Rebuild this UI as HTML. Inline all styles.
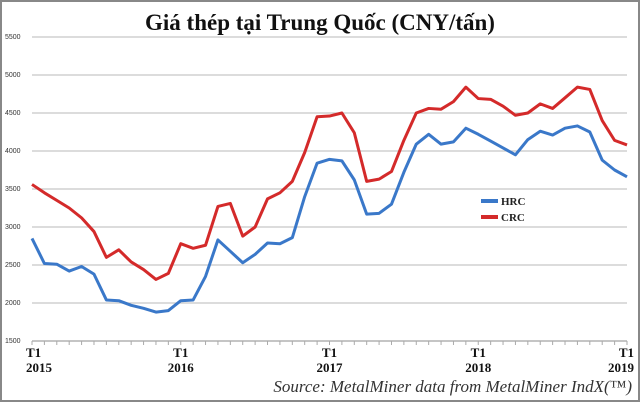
<!DOCTYPE html>
<html><head><meta charset="utf-8"><style>
body{margin:0;background:#fff;}
svg{display:block;}
</style></head><body>
<svg width="640" height="402" viewBox="0 0 640 402" xmlns="http://www.w3.org/2000/svg">
<rect x="1" y="1" width="638" height="400" fill="#fff" stroke="#888" stroke-width="2"/>
<text x="320" y="30" text-anchor="middle" font-family="Liberation Serif, serif" font-size="23" font-weight="bold" fill="#111">Giá thép tại Trung Quốc (CNY/tấn)</text>
<g id="grid"></g><g id="axes"></g><g id="series"></g>
<g>
<line x1="481" y1="201" x2="498" y2="201" stroke="#3a78c9" stroke-width="4"/>
<text x="501" y="205" font-family="Liberation Serif, serif" font-size="11" font-weight="bold" fill="#222">HRC</text>
<line x1="481" y1="217" x2="498" y2="217" stroke="#d42a2a" stroke-width="4"/>
<text x="501" y="221" font-family="Liberation Serif, serif" font-size="11" font-weight="bold" fill="#222">CRC</text>
</g>
<text x="632" y="392" text-anchor="end" font-family="Liberation Serif, serif" font-size="17" font-style="italic" fill="#333">Source: MetalMiner data from MetalMiner IndX(™)</text>
</svg>
<script>
const yTicks=[1500,2000,2500,3000,3500,4000,4500,5000,5500];
const xLabels=[["T1","2015"],["T1","2016"],["T1","2017"],["T1","2018"],["T1","2019"]];
const hrc=[2850,2520,2510,2420,2480,2380,2040,2030,1970,1930,1880,1900,2030,2040,2350,2830,2680,2530,2640,2790,2780,2860,3400,3840,3890,3870,3620,3170,3180,3300,3720,4090,4220,4090,4120,4300,4220,4130,4040,3950,4150,4260,4210,4300,4330,4250,3880,3750,3660];
const crc=[3560,3450,3350,3250,3120,2940,2600,2700,2540,2440,2310,2390,2780,2720,2760,3270,3310,2880,3000,3370,3450,3600,3980,4450,4460,4500,4240,3600,3630,3730,4140,4500,4560,4550,4650,4840,4690,4680,4590,4470,4500,4620,4560,4700,4840,4810,4400,4140,4080];
const NS='http://www.w3.org/2000/svg';
const L=32,R=627,T=37,B=341;
const n=hrc.length;
function xs(i){return L+(R-L)*i/(n-1);}
function ys(v){return B-(v-1500)/4000*(B-T);}
function mk(tag,at,parent){const e=document.createElementNS(NS,tag);for(const k in at)e.setAttribute(k,at[k]);parent.appendChild(e);return e;}
const grid=document.getElementById('grid'),axes=document.getElementById('axes'),ser=document.getElementById('series');
yTicks.forEach(v=>{
 const g=mk('line',{x1:L,x2:R,y1:ys(v),y2:ys(v),stroke:'#c8c8c8','stroke-width':1.2},grid);
 
 
 const t=mk('text',{x:5,y:ys(v)+2,'font-family':'Liberation Sans, sans-serif','font-size':7,fill:'#333'},axes);
 t.textContent=v;
 
 
});
const ax=mk('line',{x1:L,x2:R,y1:B,y2:B,stroke:'#999','stroke-width':1},axes);


for(let i=0;i<n;i++){
 const tk=mk('line',{x1:xs(i),x2:xs(i),y1:B,y2:B+4,stroke:'#aaa','stroke-width':1},axes);
 
 
}
xLabels.forEach((lb,k)=>{
 const x=xs(k*12);
 const anchor=k===0?'start':(k===xLabels.length-1?'end':'middle');
 const xx=k===0?L-6:(k===xLabels.length-1?R+7:x);
 lb.forEach((s,j)=>{
  const t=mk('text',{x:xx,y:357+j*15,'text-anchor':anchor,'font-family':'Liberation Serif, serif','font-size':13,'font-weight':'bold',fill:'#111'},axes);
  t.textContent=s;
  
  
 });
});
function line(data,color,name){
 const p=mk('polyline',{points:data.map((v,i)=>xs(i)+','+ys(v)).join(' '),fill:'none',stroke:color,'stroke-width':3,'stroke-linejoin':'round'},ser);
 
 
}
line(crc,'#d42a2a','crc-line');
line(hrc,'#3a78c9','hrc-line');
</script>
</body></html>
